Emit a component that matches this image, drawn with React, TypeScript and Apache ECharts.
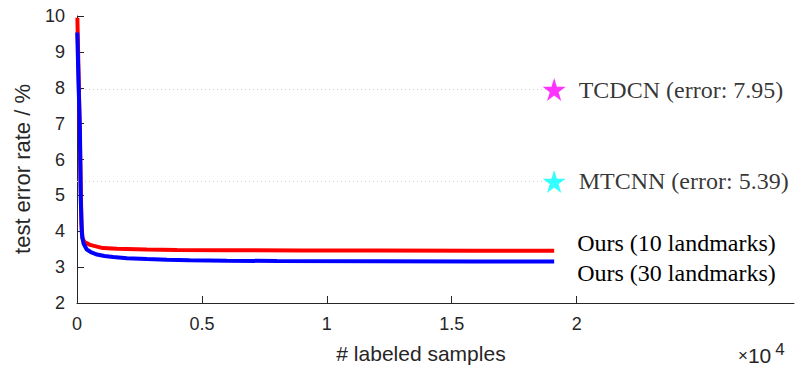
import React, { useEffect, useRef } from "react";
import * as echarts from "echarts";

const redX = [15, 60, 110, 150, 180, 220, 300, 520, 1040, 1600, 2800, 4000, 6000, 9000, 12000, 16000, 19100];
const redY = [9.95, 8.5, 6.8, 5.2, 4.2, 3.8, 3.7, 3.62, 3.53, 3.51, 3.49, 3.475, 3.47, 3.465, 3.46, 3.455, 3.455];
const blueX = [10, 60, 120, 150, 190, 210, 260, 390, 550, 800, 1100, 1450, 2000, 2800, 3600, 4500, 6000, 8000, 12000, 16000, 19100];
const blueY = [9.54, 8.2, 6.7, 4.9, 4.0, 3.84, 3.66, 3.49, 3.42, 3.35, 3.31, 3.28, 3.25, 3.225, 3.205, 3.19, 3.18, 3.17, 3.165, 3.16, 3.16];

const refNames = ["TCDCN (error: 7.95)", "MTCNN (error: 5.39)"];
const refErrors = [7.95, 5.39];
const refX = 19100;
const refColors = ["#ff00ff", "#00ffff"];

const seriesNames = ["Ours (10 landmarks)", "Ours (30 landmarks)"];
const xTicks = [0, 5000, 10000, 15000, 20000];

const STAR = "path://M50,0 L61.2,34.5 L97.6,34.5 L68.2,55.9 L79.4,90.5 L50,69.1 L20.6,90.5 L31.8,55.9 L2.4,34.5 L38.8,34.5 Z";
const SANS = "Liberation Sans, Arial, Helvetica, sans-serif";
const SERIF = "Liberation Serif, Times New Roman, serif";
const AX = "#262626";

export default function App() {
  const ref = useRef<HTMLDivElement>(null);
  useEffect(() => {
    document.body.style.margin = "0";
    if (!ref.current) return;
    const chart = echarts.init(ref.current, undefined, { renderer: "svg" });
    const series: any[] = [];
    refErrors.forEach((e, i) => {
      series.push({
        type: "line",
        data: [[0, e], [refX, e]],
        symbol: "none",
        lineStyle: { color: "#cfcfcf", width: 1, type: [1, 3] },
        z: 1,
        silent: true,
      });
      series.push({
        type: "scatter",
        data: [[refX, e]],
        symbol: STAR,
        symbolSize: 23,
        itemStyle: { color: refColors[i] },
        label: {
          show: true,
          position: "right",
          distance: 13,
          formatter: refNames[i],
          fontFamily: SERIF,
          fontSize: 24,
          color: "#000",
        },
        z: 5,
      });
    });
    const curves = [
      { x: redX, y: redY, color: "#ff0000", off: [23, -8] },
      { x: blueX, y: blueY, color: "#0000ff", off: [23, 12] },
    ];
    curves.forEach((c, i) => {
      series.push({
        type: "line",
        data: c.x.map((v, j) => [v, c.y[j]]),
        symbol: "none",
        lineStyle: { color: c.color, width: 4 },
        z: 3 + i,
        endLabel: {
          show: true,
          formatter: seriesNames[i],
          distance: 0,
          offset: c.off,
          fontFamily: SERIF,
          fontSize: 24,
          color: "#000",
        },
      });
    });
    chart.setOption({
      animation: false,
      grid: { left: 77, right: 10, top: 16, bottom: 65 },
      xAxis: {
        type: "value",
        min: 0,
        max: 28700,
        splitLine: { show: false },
        axisLine: { lineStyle: { color: AX, width: 1 } },
        axisTick: { inside: true, length: 7, customValues: xTicks, lineStyle: { color: AX } },
        axisLabel: {
          customValues: xTicks,
          formatter: (v: number) => String(v / 10000),
          color: AX,
          fontFamily: SANS,
          fontSize: 18,
          margin: 12,
        },
      },
      yAxis: {
        type: "value",
        min: 2,
        max: 10,
        interval: 1,
        splitLine: { show: false },
        axisLine: { show: true, lineStyle: { color: AX, width: 1 } },
        axisTick: { show: true, inside: true, length: 7, lineStyle: { color: AX } },
        axisLabel: { color: AX, fontFamily: SANS, fontSize: 18, margin: 12 },
      },
      graphic: [
        {
          type: "text",
          x: 22,
          y: 169,
          rotation: Math.PI / 2,
          style: {
            text: "test error rate / %",
            fontFamily: SANS,
            fontSize: 22,
            fill: AX,
            align: "center",
            verticalAlign: "middle",
          },
        },
        {
          type: "text",
          x: 421,
          y: 353,
          style: {
            text: "# labeled samples",
            fontFamily: SANS,
            fontSize: 21,
            fill: AX,
            align: "center",
            verticalAlign: "middle",
          },
        },
        {
          type: "text",
          x: 738,
          y: 355,
          style: {
            text: "{m|×}{n|10}{s|4}",
            rich: {
              m: { fontSize: 17, fontFamily: SANS, fill: AX },
              n: { fontSize: 21, fontFamily: SANS, fill: AX },
              s: { fontSize: 17, fontFamily: SANS, fill: AX, padding: [0, 0, 12, 4] },
            },
            fontFamily: SANS,
            fontSize: 21,
            fill: AX,
            align: "left",
            verticalAlign: "middle",
          },
        },
      ],
      series,
    });
    return () => chart.dispose();
  }, []);
  return <div ref={ref} style={{ width: 804, height: 368 }} />;
}
